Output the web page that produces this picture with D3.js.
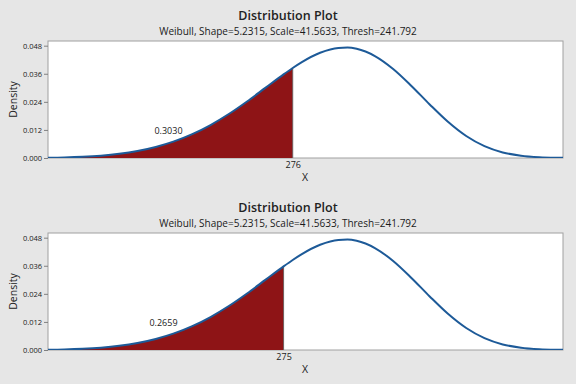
<!DOCTYPE html>
<html>
<head>
<meta charset="utf-8">
<script src="https://cdn.jsdelivr.net/npm/d3@7"></script>
<style>
  body { margin: 0; background: #e6e6e6; }
  svg { display: block; font-family: "Open Sans", "Noto Sans", sans-serif; }
</style>
</head>
<body>
<script>
// Weibull density (x, density)
var xValues = [249, 251, 253, 255, 257, 259, 261, 263, 265, 267, 269, 271, 273, 275, 276, 277, 279, 281, 282, 283, 285, 287, 289, 291, 293, 295, 297, 299, 301, 303, 305, 306];
var densities = [0.00008, 0.00021, 0.00049, 0.00098, 0.00178, 0.00299, 0.00472, 0.00709, 0.01020, 0.01410, 0.01879, 0.02416, 0.02995, 0.03575, 0.03848, 0.04099, 0.04499, 0.04706, 0.04719, 0.04666, 0.04357, 0.03804, 0.03079, 0.02290, 0.01547, 0.00939, 0.00506, 0.00238, 0.00097, 0.00033, 0.00010, 0.00005];

var yTicks = [0.000, 0.012, 0.024, 0.036, 0.048];
var cutoffs = [276, 275];
var areaLabels = ["0.3030", "0.2659"];
var titleText = "Distribution Plot";
var subtitleText = "Weibull, Shape=5.2315, Scale=41.5633, Thresh=241.792";

var svgWidth = 576;
var svgHeight = 384;

var svg = d3.select("body")
  .append("svg")
  .attr("width", svgWidth)
  .attr("height", svgHeight);

var points = xValues.map((x, i) => ({x: x, d: densities[i]}));

var xScale = d3.scaleLinear()
  .domain([249.2, 305.6])
  .range([48, 563]);

// two panels, same layout shifted down
var panelTops = [0, 192];

panelTops.forEach(function(top, p) {
  var plotTop = top + 41;
  var plotBottom = top + 158;

  var yScale = d3.scaleLinear()
    .domain([0, 0.05])
    .range([plotBottom, plotTop]);

  var g = svg.append("g");

  g.append("text")
    .attr("x", 288)
    .attr("y", top + 20)
    .attr("text-anchor", "middle")
    .style("font-size", "12.5px")
    .style("font-weight", "600")
    .attr("fill", "#222")
    .text(titleText);

  g.append("text")
    .attr("x", 288)
    .attr("y", top + 34.5)
    .attr("text-anchor", "middle")
    .style("font-size", "10px")
    .attr("fill", "#1a1a1a")
    .text(subtitleText);

  g.append("rect")
    .attr("x", xScale.range()[0])
    .attr("y", plotTop)
    .attr("width", xScale.range()[1] - xScale.range()[0])
    .attr("height", plotBottom - plotTop)
    .attr("fill", "#ffffff")
    .attr("stroke", "#a0a0a0")
    .attr("stroke-width", 1);

  g.append("clipPath")
    .attr("id", "clip" + p)
    .append("rect")
    .attr("x", xScale.range()[0])
    .attr("y", plotTop - 5)
    .attr("width", xScale.range()[1] - xScale.range()[0])
    .attr("height", plotBottom - plotTop + 5);

  var plot = g.append("g").attr("clip-path", "url(#clip" + p + ")");

  // shaded left tail
  var cut = cutoffs[p];
  var tail = points.filter(d => d.x <= cut);

  var area = d3.area()
    .x(d => xScale(d.x))
    .y0(plotBottom)
    .y1(d => yScale(d.d))
    .curve(d3.curveMonotoneX);

  plot.append("path")
    .datum(tail)
    .attr("d", area)
    .attr("fill", "#8e1416");

  plot.append("line")
    .attr("x1", xScale(cut))
    .attr("x2", xScale(cut))
    .attr("y1", plotBottom)
    .attr("y2", yScale(tail[tail.length - 1].d))
    .attr("stroke", "#6e5e5e")
    .attr("stroke-width", 1);

  var line = d3.line()
    .x(d => xScale(d.x))
    .y(d => yScale(d.d))
    .curve(d3.curveMonotoneX);

  plot.append("path")
    .datum(points)
    .attr("d", line)
    .attr("fill", "none")
    .attr("stroke", "#1d5a98")
    .attr("stroke-width", 2);

  // y axis
  var leftAxis = d3.axisLeft(yScale)
    .tickValues(yTicks)
    .tickFormat(d3.format(".3f"))
    .tickSize(4)
    .tickPadding(2);

  var ya = g.append("g")
    .attr("transform", `translate(${xScale.range()[0]}, 0)`)
    .call(leftAxis);
  ya.select(".domain").remove();
  ya.selectAll("line").attr("stroke", "#808080");
  ya.selectAll("text")
    .style("font-size", "7.5px")
    .style("font-family", "'Open Sans', sans-serif")
    .attr("fill", "#1a1a1a");

  // x axis: only the cutoff value
  var bottomAxis = d3.axisBottom(xScale)
    .tickValues([cut])
    .tickSize(0)
    .tickPadding(4);

  var xa = g.append("g")
    .attr("transform", `translate(0, ${plotBottom})`)
    .call(bottomAxis);
  xa.select(".domain").remove();
  xa.selectAll("text")
    .style("font-size", "9px")
    .style("font-family", "'Open Sans', sans-serif")
    .attr("fill", "#1a1a1a");

  g.append("text")
    .attr("x", 305)
    .attr("y", plotBottom + 23)
    .attr("text-anchor", "middle")
    .style("font-size", "10.5px")
    .attr("fill", "#1a1a1a")
    .text("X");

  g.append("text")
    .attr("transform", `translate(17, ${(plotTop + plotBottom) / 2}) rotate(-90)`)
    .attr("text-anchor", "middle")
    .style("font-size", "10.5px")
    .attr("fill", "#1a1a1a")
    .text("Density");

  // probability label in the shaded area
  g.append("text")
    .attr("x", p === 0 ? 168.5 : 163.5)
    .attr("y", plotBottom - 24)
    .attr("text-anchor", "middle")
    .style("font-size", "9px")
    .attr("fill", "#1a1a1a")
    .text(areaLabels[p]);
});
</script>
</body>
</html>
